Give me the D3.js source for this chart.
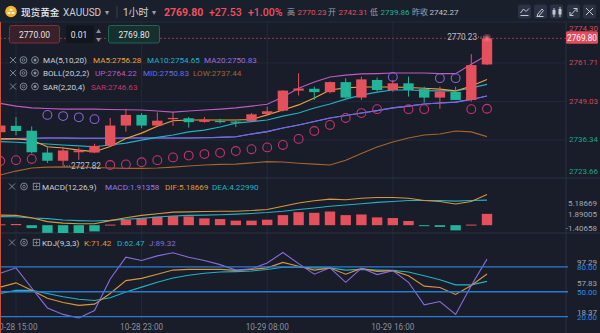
<!DOCTYPE html>
<html><head><meta charset="utf-8">
<script src="https://cdn.jsdelivr.net/npm/d3@7"></script>
<style>
body{margin:0;background:#181d29;}
svg{display:block;font-family:Roboto,"Noto Sans CJK SC",sans-serif;}
</style>
</head><body>
<svg id="c" width="600" height="333"></svg>
<script>
// ---------- DATA ----------
const times = ["10-28 14:00","10-28 15:00","10-28 16:00","10-28 17:00","10-28 18:00","10-28 19:00","10-28 20:00","10-28 21:00","10-28 22:00","10-28 23:00",
"10-29 00:00","10-29 01:00","10-29 02:00","10-29 03:00","10-29 04:00","10-29 06:00","10-29 07:00","10-29 08:00","10-29 09:00","10-29 10:00",
"10-29 11:00","10-29 12:00","10-29 13:00","10-29 14:00","10-29 15:00","10-29 16:00","10-29 17:00","10-29 18:00","10-29 19:00","10-29 20:00","10-29 21:00","10-29 22:00"];
const openP  = [2738.9,2741.0,2739.4,2732.2,2729.5,2732.3,2732.2,2734.5,2741.1,2744.6,2741.1,2743.2,2743.5,2742.3,2742.6,2742.4,2742.6,2744.9,2746.0,2752.6,2753.2,2752.1,2755.4,2750.3,2756.1,2752.8,2755.0,2753.1,2750.3,2752.2,2749.5,2761.2];
const highP  = [2741.8,2743.9,2740.8,2734.1,2734.1,2733.8,2735.1,2743.6,2746.6,2745.2,2745.4,2745.5,2743.9,2743.9,2743.3,2742.6,2745.2,2747.3,2752.8,2758.3,2753.9,2755.6,2756.7,2757.2,2756.9,2756.1,2757.2,2753.9,2753.9,2753.9,2764.6,2770.23];
const lowP   = [2738.0,2737.9,2731.9,2728.8,2727.82,2729.8,2732.0,2734.2,2739.1,2740.2,2741.0,2741.0,2740.4,2742.0,2741.8,2740.6,2742.3,2744.8,2745.7,2751.0,2749.5,2751.7,2750.1,2749.5,2752.3,2752.2,2750.6,2748.6,2746.6,2749.5,2749.0,2761.0];
const closeP = [2741.1,2739.3,2732.3,2729.5,2732.9,2732.9,2734.4,2741.1,2744.6,2741.1,2742.7,2743.6,2742.2,2743.0,2742.5,2742.2,2744.8,2745.8,2752.6,2753.3,2752.1,2755.4,2750.3,2756.3,2752.8,2755.0,2752.8,2750.3,2752.3,2749.5,2761.0,2769.80];
const ma5  = [2736.7,2736.7,2736.3,2734.1,2733.7,2733.0,2732.5,2734.2,2736.8,2738.6,2740.9,2742.7,2742.9,2742.9,2742.9,2742.9,2743.1,2744.6,2746.2,2747.9,2750.2,2752.8,2753.5,2753.8,2753.8,2753.8,2753.6,2753.4,2753.1,2752.5,2754.1,2756.28];
const ma10 = [2735.8,2735.6,2735.3,2735.0,2734.7,2734.4,2734.1,2734.7,2735.3,2736.3,2737.2,2738.0,2739.0,2739.6,2740.6,2741.9,2742.4,2742.9,2744.2,2745.2,2746.9,2748.2,2749.8,2751.1,2752.1,2752.8,2752.8,2752.6,2752.5,2752.5,2753.5,2754.65];
const bollMid = [2736.6,2736.8,2736.9,2737.0,2737.0,2736.9,2736.9,2736.9,2737.0,2737.0,2737.0,2737.0,2737.0,2737.1,2737.2,2737.4,2738.3,2739.1,2740.3,2741.3,2742.4,2743.6,2744.4,2745.2,2746.0,2746.9,2747.5,2748.2,2748.5,2748.8,2749.7,2750.83];
const ma20 = bollMid;
const bollUp  = [2748.4,2747.5,2746.9,2746.7,2746.5,2746.5,2746.5,2746.4,2746.3,2746.2,2745.9,2745.5,2745.9,2746.2,2746.5,2746.9,2747.5,2748.1,2750.5,2753.4,2755.4,2757.1,2757.7,2758.1,2758.2,2758.4,2758.4,2758.4,2758.2,2758.2,2761.3,2764.22];
const bollLow = [2724.8,2726.1,2727.1,2727.4,2727.5,2727.4,2727.3,2727.1,2727.0,2727.0,2727.1,2727.4,2727.8,2728.1,2728.3,2728.4,2728.8,2729.2,2729.1,2728.7,2728.4,2728.1,2729.7,2731.9,2734.0,2735.7,2737.0,2738.0,2738.3,2739.3,2739.0,2737.44];
const sar = [2729.4,2729.7,2730.1,2744.6,2744.2,2743.8,2743.2,2728.1,2728.3,2729.0,2729.7,2730.6,2731.2,2731.7,2732.1,2732.7,2733.3,2733.9,2734.7,2736.7,2739.3,2741.3,2743.6,2745.2,2746.5,2757.1,2746.5,2746.5,2756.7,2756.7,2746.5,2746.63];
const macdHist = [0.15,0.2,-0.5,-1.3,-1.40658,-1.35,-1.05,0.1,0.88,1.15,1.43,1.54,1.48,1.15,1.04,0.77,0.77,0.93,1.70,2.2,2.09,2.31,1.70,1.81,1.32,1.21,0.71,-0.1,-0.3,-0.88,0.1,1.91358];
const dif = [1.7,1.65,1.26,0.6,0.35,0.25,0.25,0.77,1.26,1.65,1.92,2.20,2.25,2.31,2.36,2.36,2.47,2.64,3.19,3.74,4.12,4.40,4.29,4.56,4.67,4.67,4.56,4.18,4.01,3.57,4.01,5.18669];
const dea = [1.45,1.43,1.21,1.10,0.88,0.77,0.71,0.82,0.99,1.15,1.37,1.54,1.65,1.70,1.76,1.87,1.98,2.14,2.36,2.64,2.91,3.19,3.41,3.63,3.85,4.01,4.18,4.18,4.18,4.07,4.18,4.2299];
const kLine = [55.6,60.7,51.7,42.1,37.0,33.6,35.1,47.9,63.4,66.1,71.1,76.1,76.9,76.9,76.9,75.7,76.9,78.8,85.4,80.8,76.1,78.5,71.1,78.1,74.6,75.4,69.2,56.8,55.2,46.7,57.6,71.42];
const dLine = [47.9,51.7,51.7,47.9,44.0,40.9,39.4,42.8,49.8,55.6,61.4,66.5,69.9,72.3,73.8,74.2,75.0,76.9,79.6,79.6,78.8,78.8,76.1,76.9,76.1,75.7,73.8,69.2,64.5,58.3,58.3,62.47];
const jLine = [72.3,78.8,54.5,30.5,22.7,18.37,27.4,65.3,91.6,87.7,93.2,97.0,91.6,87.7,82.7,76.1,77.7,84.6,97.29,83.9,71.1,78.8,61.4,78.5,70.7,75.4,61.4,34.3,38.2,22.7,57.6,89.32];
const priceTicks = [2774.30,2761.71,2749.03,2736.34,2723.66];
const macdTicks = [5.18669,1.89005,-1.40658];
const kdjTicks = [97.29,57.83,18.37];
const kdjLevels = [80,50,20];
const timeTicks = ["10-28 15:00","10-28 23:00","10-29 08:00","10-29 16:00"];
const prevClose = 2742.27;
const header = {name:"现货黄金", code:"XAUUSD", period:"1小时", last:"2769.80", chg:"+27.53", pct:"+1.00%",
  high:"2770.23", open:"2742.31", low:"2739.86", prev:"2742.27", bid:"2770.00", lot:"0.01", ask:"2769.80"};

// ---------- SETUP ----------
const C = {bg:"#181d29", grid:"#232938", sep:"#2b3242", up:"#e5505d", down:"#22b498",
  ma5:"#eea23c", ma10:"#20b2c8", ma20:"#9a6ee0", bu:"#bb5cc0", bm:"#6a6de4", bl:"#a4652f",
  sarUp:"#c6356f", sarDn:"#8a62d2", txt:"#cfd2da", dim:"#8a909c", lvl:"#2a7cd0"};
const svg = d3.select("#c");
const AX = 566;
const x = d3.scalePoint().domain(times).range([0.3, 487]);
const bw = 10.4;
const y = d3.scaleLinear().domain([2723.66, 2774.30]).range([178.5, 24.7]);
const ym = d3.scaleLinear().domain([-1.40658, 5.18669]).range([233.5, 194.5]);
const yk = d3.scaleLinear().domain([18.37, 97.29]).range([318, 252.5]);

svg.append("rect").attr("width",600).attr("height",333).attr("fill",C.bg);
const defs = svg.append("defs");
function clip(id,x0,y0,w,h){defs.append("clipPath").attr("id",id).append("rect").attr("x",x0).attr("y",y0).attr("width",w).attr("height",h);}
clip("cm",0,22,AX,156); clip("cd",0,178,AX,55); clip("ck",0,233,AX,87);
defs.append("filter").attr("id","glow").append("feGaussianBlur").attr("stdDeviation",1.6);

// gridlines
const g0 = svg.append("g");
g0.selectAll(".hg").data(priceTicks.slice(1,4)).join("line")
  .attr("x1",0).attr("x2",AX).attr("y1",d=>y(d)).attr("y2",d=>y(d)).attr("stroke",C.grid);
g0.selectAll(".vg").data(timeTicks).join("line")
  .attr("x1",d=>x(d)).attr("x2",d=>x(d)).attr("y1",22).attr("y2",320).attr("stroke",C.grid);
// separators
[178,233].forEach(v=>svg.append("line").attr("x1",0).attr("x2",600).attr("y1",v).attr("y2",v).attr("stroke",C.sep));
svg.append("line").attr("x1",AX).attr("x2",AX).attr("y1",22).attr("y2",333).attr("stroke",C.sep);

// ---------- MAIN PANE ----------
const gm = svg.append("g").attr("clip-path","url(#cm)");
const line = (sc)=>d3.line().x((d,i)=>x(times[i])).y(d=>sc(d));
[[bollLow,C.bl],[bollUp,C.bu],[ma20,C.ma20],[bollMid,C.bm],[ma10,C.ma10],[ma5,C.ma5]].forEach(([arr,col])=>{
  gm.append("path").datum(arr).attr("d",line(y)).attr("fill","none").attr("stroke",col).attr("stroke-width",1.1);
});
const cd = times.map((t,i)=>({t,o:openP[i],h:highP[i],l:lowP[i],c:closeP[i]}));
const cg = gm.selectAll(".cdl").data(cd).join("g");
cg.append("line").attr("x1",d=>x(d.t)).attr("x2",d=>x(d.t)).attr("y1",d=>y(d.h)).attr("y2",d=>y(d.l))
  .attr("stroke",d=>d.c>=d.o?C.up:C.down).attr("stroke-width",1);
cg.append("rect").attr("x",d=>x(d.t)-bw/2).attr("width",bw)
  .attr("y",d=>y(Math.max(d.o,d.c))).attr("height",d=>Math.max(1.2,Math.abs(y(d.o)-y(d.c))))
  .attr("fill",d=>d.c>=d.o?C.up:C.down);
gm.selectAll(".sar").data(sar).join("circle")
  .attr("cx",(d,i)=>x(times[i])).attr("cy",d=>y(d)).attr("r",4.4).attr("fill","none")
  .attr("stroke",(d,i)=>d>closeP[i]?C.sarDn:C.sarUp).attr("stroke-width",1.1);
// current price line
const last = closeP[closeP.length-1];
svg.append("line").attr("x1",0).attr("x2",AX).attr("y1",y(last)).attr("y2",y(last))
  .attr("stroke","#a23a4a").attr("stroke-dasharray","2,2").attr("stroke-width",0.9);
// glow on top
svg.append("circle").attr("cx",x(times[times.length-1])).attr("cy",y(highP[highP.length-1])+1).attr("r",3)
  .attr("fill","#ff7f8e").attr("filter","url(#glow)").attr("opacity",0.8);
// high / low markers
const vis = d3.range(1,times.length);
const hiI = vis.reduce((a,b)=>highP[b]>highP[a]?b:a);
const loI = vis.reduce((a,b)=>lowP[b]<lowP[a]?b:a);
svg.append("line").attr("x1",x(times[hiI])-9).attr("x2",x(times[hiI])-3).attr("y1",y(highP[hiI])).attr("y2",y(highP[hiI]))
  .attr("stroke","#9aa0ab").attr("stroke-dasharray","1,1.5");
svg.append("text").attr("x",x(times[hiI])-10).attr("y",y(highP[hiI])).attr("text-anchor","end").attr("dominant-baseline","central")
  .attr("font-size",8.2).attr("fill","#b9bdc6").text(highP[hiI].toFixed(2));
svg.append("line").attr("x1",x(times[loI])+1).attr("x2",x(times[loI])+7).attr("y1",y(lowP[loI])).attr("y2",y(lowP[loI]))
  .attr("stroke","#9aa0ab").attr("stroke-dasharray","1,1.5");
svg.append("text").attr("x",x(times[loI])+8).attr("y",y(lowP[loI])).attr("dominant-baseline","central")
  .attr("font-size",8.2).attr("fill","#b9bdc6").text(lowP[loI].toFixed(2));

// ---------- MACD PANE ----------
const gd = svg.append("g").attr("clip-path","url(#cd)");
gd.selectAll(".mb").data(macdHist).join("rect")
  .attr("x",(d,i)=>x(times[i])-bw/2).attr("width",bw)
  .attr("y",d=>d>=0?ym(d):ym(0)).attr("height",d=>Math.max(1,Math.abs(ym(d)-ym(0))))
  .attr("fill",d=>d>=0?C.up:C.down);
gd.append("path").datum(dea).attr("d",line(ym)).attr("fill","none").attr("stroke",C.ma10).attr("stroke-width",1.1);
gd.append("path").datum(dif).attr("d",line(ym)).attr("fill","none").attr("stroke","#d9963c").attr("stroke-width",1.1);

// ---------- KDJ PANE ----------
const gk = svg.append("g").attr("clip-path","url(#ck)");
svg.selectAll(".lv").data(kdjLevels).join("line")
  .attr("x1",0).attr("x2",AX+2).attr("y1",d=>yk(d)).attr("y2",d=>yk(d)).attr("stroke",C.lvl).attr("stroke-width",1.3);
[[dLine,C.ma10],[kLine,"#d9963c"],[jLine,"#8a6cdc"]].forEach(([arr,col])=>{
  gk.append("path").datum(arr).attr("d",line(yk)).attr("fill","none").attr("stroke",col).attr("stroke-width",1.1);
});

// ---------- AXIS LABELS ----------
const clamp=(v,a,b)=>Math.max(a,Math.min(b,v));
svg.selectAll(".pt").data(priceTicks).join("text")
  .attr("x",569).attr("y",d=>clamp(y(d),28.5,171.5)).attr("dominant-baseline","central")
  .attr("font-size",8).attr("fill",d=>d>=prevClose?"#d04a5a":"#1fa287").text(d=>d.toFixed(2));
svg.selectAll(".mt").data(macdTicks).join("text")
  .attr("x",597).attr("text-anchor","end").attr("y",d=>clamp(ym(d),203,228)).attr("dominant-baseline","central")
  .attr("font-size",8).attr("fill","#a3a8b2").text(d=>d.toFixed(5));
svg.selectAll(".kt").data(kdjTicks).join("text")
  .attr("x",597).attr("text-anchor","end").attr("y",d=>clamp(yk(d)-1.5,262.5,312)).attr("dominant-baseline","central")
  .attr("font-size",8).attr("fill","#a3a8b2").text(d=>d.toFixed(2));
svg.selectAll(".kl").data(kdjLevels).join("text")
  .attr("x",597).attr("text-anchor","end").attr("y",d=>yk(d)+0.5).attr("dominant-baseline","central")
  .attr("font-size",8).attr("fill","#2f8be6").text(d=>d.toFixed(2));
svg.selectAll(".tt").data(timeTicks).join("text")
  .attr("x",d=>x(d)).attr("y",327).attr("text-anchor","middle").attr("dominant-baseline","central")
  .attr("font-size",8.2).attr("fill","#8b909b").text(d=>d);
// price tag
svg.append("rect").attr("x",AX).attr("y",y(last)-7).attr("width",32).attr("height",12.5).attr("rx",1.5).attr("fill","#e34c5c");
svg.append("text").attr("x",AX+16).attr("y",y(last)-0.7).attr("text-anchor","middle").attr("dominant-baseline","central")
  .attr("font-size",8.2).attr("fill","#fff").text(last.toFixed(2));

// ---------- HEADER ----------
svg.append("rect").attr("width",600).attr("height",22).attr("fill","#1a1f2c");
svg.append("line").attr("x1",0).attr("x2",600).attr("y1",22).attr("y2",22).attr("stroke","#262c3a");
svg.append("circle").attr("cx",11).attr("cy",11.5).attr("r",5.8).attr("fill","#f1b52f");
[[9,13],[13,13],[11,9.8]].forEach(([a,b])=>svg.append("rect").attr("x",a-1.4).attr("y",b-1).attr("width",2.8).attr("height",2).attr("fill","#fff7da"));
const ht=(tx,xx,col,fs,fw)=>svg.append("text").attr("x",xx).attr("y",12).attr("dominant-baseline","central")
  .attr("font-size",fs).attr("fill",col).attr("font-weight",fw||400).text(tx);
ht(header.name,21,"#e8eaef",9.6,500);
ht(header.code,63,"#c9ccd4",10);
ht("▾",105,"#9aa0ab",8);
svg.append("line").attr("x1",117).attr("x2",117).attr("y1",6).attr("y2",18).attr("stroke","#3a4152");
ht(header.period,123,"#d0d3da",10);
ht("▾",152,"#9aa0ab",8);
ht(header.last,164,"#f0505f",10.5,700);
ht(header.chg,209,"#f0505f",10.5,500);
ht(header.pct,248,"#f0505f",10.5,500);
ht("高",287,"#9aa0ab",8); ht(header.high,297.5,"#e0505d",8);
ht("开",328,"#9aa0ab",8); ht(header.open,338.5,"#e0505d",8);
ht("低",370,"#9aa0ab",8); ht(header.low,380.5,"#1fb496",8);
ht("昨收",412,"#9aa0ab",8); ht(header.prev,429.5,"#c0c4cc",8);
// right icon buttons
const ib = [518,534,550,567,583];
ib.forEach(v=>svg.append("rect").attr("x",v).attr("y",4.5).attr("width",13).attr("height",14).attr("rx",2).attr("fill","#2a3243"));
const ic = svg.append("g").attr("stroke","#c4c9d2").attr("fill","none").attr("stroke-width",1);
ic.append("path").attr("d","M520.5,13 l3,-4 l2.5,2.5 l3,-3 M520.5,15.5 h8");
ic.append("path").attr("d","M537,15 l5,-6 l1.5,1.5 l-5,6 z M536.5,16.5 h7");
ic.append("path").attr("d","M554,8 v9 M560,7 v10");
svg.append("rect").attr("x",552.5).attr("y",10).attr("width",3).attr("height",4.5).attr("fill","#c4c9d2");
svg.append("rect").attr("x",558.5).attr("y",9).attr("width",3).attr("height",5.5).attr("fill","#c4c9d2");
ic.append("path").attr("d","M570,15.5 l7,-7 M573.5,8.5 h3.5 v3.5 M570,12 v3.5 h3.5");
ic.append("path").attr("d","M586,8 l7,7 M593,8 l-7,7");

// row 2 boxes
svg.append("rect").attr("x",9.5).attr("y",25.5).attr("width",50).attr("height",17.5).attr("rx",2).attr("fill","#3a2029").attr("stroke","#7c2f3c");
svg.append("text").attr("x",34.5).attr("y",34.5).attr("text-anchor","middle").attr("dominant-baseline","central").attr("font-size",8.5).attr("fill","#e2e4ea").text(header.bid);
svg.append("rect").attr("x",66).attr("y",25.5).attr("width",28).attr("height",17.5).attr("rx",1.5).attr("fill","#11151e");
svg.append("text").attr("x",79).attr("y",34.5).attr("text-anchor","middle").attr("dominant-baseline","central").attr("font-size",8.5).attr("fill","#e2e4ea").text(header.lot);
svg.append("text").attr("x",98.5).attr("y",30.5).attr("text-anchor","middle").attr("dominant-baseline","central").attr("font-size",5).attr("fill","#8a909c").text("▲");
svg.append("text").attr("x",98.5).attr("y",38.5).attr("text-anchor","middle").attr("dominant-baseline","central").attr("font-size",5).attr("fill","#8a909c").text("▼");
svg.append("rect").attr("x",108.5).attr("y",25.5).attr("width",51).attr("height",17.5).attr("rx",2).attr("fill","#16302e").attr("stroke","#1f6656");
svg.append("text").attr("x",134).attr("y",34.5).attr("text-anchor","middle").attr("dominant-baseline","central").attr("font-size",8.5).attr("fill","#e2e4ea").text(header.ask);

// ---------- LEGENDS ----------
function iconX(cx,cy){svg.append("path").attr("d",`M${cx-3},${cy-3} l6,6 M${cx+3},${cy-3} l-6,6`).attr("stroke",C.dim).attr("stroke-width",0.9);}
function iconGear(cx,cy){svg.append("circle").attr("cx",cx).attr("cy",cy).attr("r",3.4).attr("fill","none").attr("stroke",C.dim).attr("stroke-width",0.9);
  svg.append("circle").attr("cx",cx).attr("cy",cy).attr("r",1.3).attr("fill","none").attr("stroke",C.dim).attr("stroke-width",0.8);}
function iconEye(cx,cy){svg.append("circle").attr("cx",cx).attr("cy",cy).attr("r",3.4).attr("fill","none").attr("stroke",C.dim).attr("stroke-width",0.9);
  svg.append("circle").attr("cx",cx).attr("cy",cy).attr("r",1.5).attr("fill",C.dim);}
function iconBox(cx,cy){svg.append("rect").attr("x",cx-3.2).attr("y",cy-3.2).attr("width",6.4).attr("height",6.4).attr("fill","none").attr("stroke",C.dim).attr("stroke-width",0.9);
  svg.append("path").attr("d",`M${cx-2},${cy} h4 M${cx},${cy-2} v4`).attr("stroke",C.dim).attr("stroke-width",0.8);}
function lt(tx,xx,yy,col){svg.append("text").attr("x",xx).attr("y",yy).attr("dominant-baseline","central").attr("font-size",8.1).attr("fill",col).text(tx);}
const L = a=>a[a.length-1].toFixed(2);
[[60],[73],[86.5]].forEach(([yy])=>{iconX(13,yy);iconGear(23.5,yy);iconEye(35,yy);});
lt("MA(5,10,20)",43,60,C.txt); lt("MA5:"+L(ma5),93,60,C.ma5); lt("MA10:"+L(ma10),147,60,C.ma10); lt("MA20:"+L(ma20),204,60,C.ma20);
lt("BOLL(20,2,2)",43,73,C.txt); lt("UP:"+L(bollUp),95,73,C.bu); lt("MID:"+L(bollMid),143,73,C.bm); lt("LOW:"+L(bollLow),193,73,C.bl);
lt("SAR(2,20,4)",43,86.5,C.txt); lt("SAR:"+L(sar),91,86.5,C.sarUp);
iconX(12,186.5); iconGear(24,186.5); iconBox(36.5,186.5);
lt("MACD(12,26,9)",42,186.5,C.txt); lt("MACD:"+macdHist[macdHist.length-1].toFixed(5),105,186.5,"#9a7ae8");
lt("DIF:"+dif[dif.length-1].toFixed(5),165,186.5,"#e09a3c"); lt("DEA:"+dea[dea.length-1].toFixed(5),212,186.5,C.ma10);
iconX(12,242.5); iconGear(24,242.5); iconBox(36.5,242.5);
lt("KDJ(9,3,3)",42,242.5,C.txt); lt("K:"+L(kLine),84,242.5,"#e09a3c"); lt("D:"+L(dLine),117,242.5,C.ma10); lt("J:"+L(jLine),149,242.5,"#8a6cdc");
// left accent border
svg.append("line").attr("x1",0.5).attr("x2",0.5).attr("y1",22).attr("y2",333).attr("stroke","#c8523a").attr("stroke-width",1);
</script>
</body></html>
